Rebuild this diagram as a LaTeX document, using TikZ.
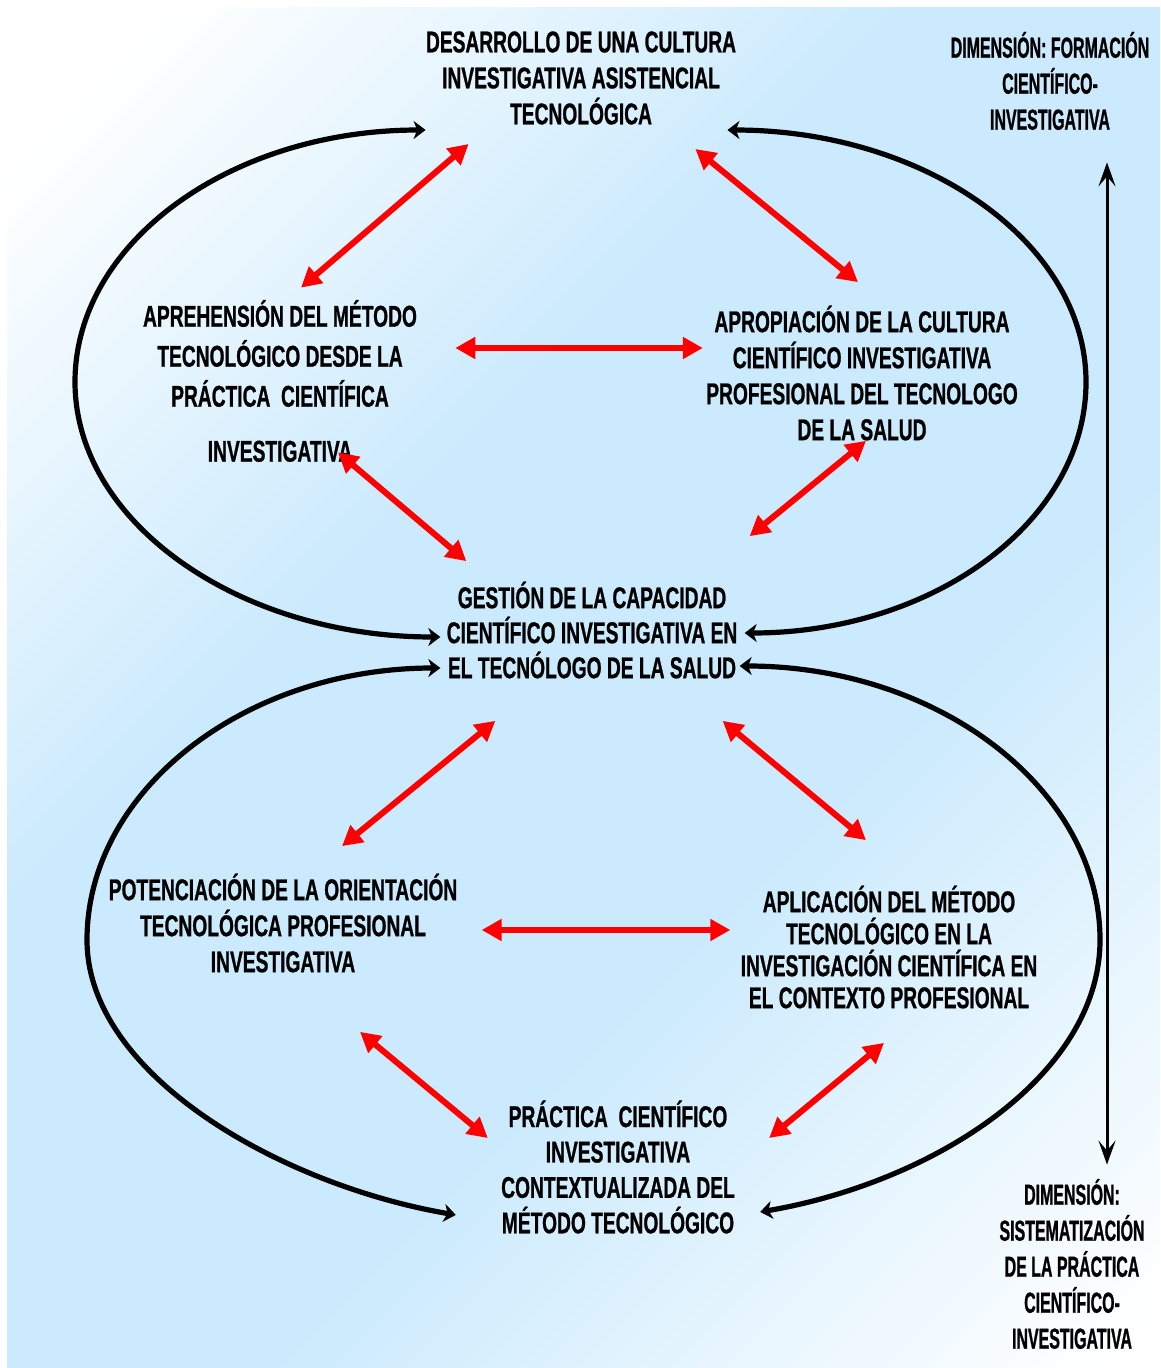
\documentclass[tikz,border=0pt]{standalone}
\usepackage{fontspec}
\usetikzlibrary{arrows.meta,calc}
\newfontfamily\stagefont[FakeStretch=0.64,FakeBold=0.8]{Liberation Sans}
\newfontfamily\dimfont[FakeStretch=0.55,FakeBold=0.8]{Liberation Sans}
\definecolor{bgblue}{RGB}{203,234,253}
\pgfdeclarehorizontalshading{skyfade}{100bp}{color(0bp)=(white); color(19bp)=(white); color(40bp)=(bgblue); color(60bp)=(bgblue); color(84bp)=(white); color(100bp)=(white)}

\begin{document}
\begin{tikzpicture}[x=0.5pt,y=-0.5pt,
  stage/.style={align=center,inner sep=1.5pt,font=\stagefont\bfseries\fontsize{15}{#1}\selectfont},
  stage/.default=18,
  dimlabel/.style={align=center,inner sep=1.5pt,font=\dimfont\bfseries\fontsize{14.5}{18}\selectfont},
  loopline/.style={line width=2.6pt,{Stealth[length=6pt,width=9pt,inset=1.8pt]}-{Stealth[length=6pt,width=9pt,inset=1.8pt]}},
  link/.style={red,line width=3pt,{Triangle[length=10pt,width=10.5pt]}-{Triangle[length=10pt,width=10.5pt]}},
  dimaxis/.style={line width=1.5pt,{Stealth[length=12pt,width=8.5pt,inset=5pt]}-{Stealth[length=12pt,width=8.5pt,inset=5pt]}}]
  \useasboundingbox (0,0) rectangle (1160,1368);
  \fill[white] (0,0) rectangle (1160,1368);
  \shade[shading=skyfade,shading angle=-45] (7,8) rectangle (1160,1368);

  \node[stage] (top) at (581,78) {DESARROLLO DE UNA CULTURA\\INVESTIGATIVA ASISTENCIAL\\TECNOLÓGICA};
  \node[stage=20] (aprehension) at (280,381) {APREHENSIÓN DEL MÉTODO\\TECNOLÓGICO DESDE LA\\PRÁCTICA\ \ CIENTÍFICA\\[7.5pt]INVESTIGATIVA};
  \node[stage] (apropiacion) at (862,373) {APROPIACIÓN DE LA CULTURA\\CIENTÍFICO INVESTIGATIVA\\PROFESIONAL DEL TECNOLOGO\\DE LA SALUD};
  \node[stage=17.5] (gestion) at (592,630) {GESTIÓN DE LA CAPACIDAD\\CIENTÍFICO INVESTIGATIVA EN\\EL TECNÓLOGO DE LA SALUD};
  \node[stage] (potenciacion) at (283,923) {POTENCIACIÓN DE LA ORIENTACIÓN\\TECNOLÓGICA PROFESIONAL\\INVESTIGATIVA};
  \node[stage=16] (aplicacion) at (889,947) {APLICACIÓN DEL MÉTODO\\TECNOLÓGICO EN LA\\INVESTIGACIÓN CIENTÍFICA EN\\EL CONTEXTO PROFESIONAL};
  \node[stage=17.7] (practica) at (618,1167) {PRÁCTICA\ \ CIENTÍFICO\\INVESTIGATIVA\\CONTEXTUALIZADA DEL\\MÉTODO TECNOLÓGICO};
  \node[dimlabel] (dimtop) at (1050,81) {DIMENSIÓN: FORMACIÓN\\CIENTÍFICO-\\INVESTIGATIVA};
  \node[dimlabel] (dimbottom) at (1072,1264) {DIMENSIÓN:\\SISTEMATIZACIÓN\\DE LA PRÁCTICA\\CIENTÍFICO-\\INVESTIGATIVA};

  % outer loops
  \coordinate (upleft) at (75,382);
  \coordinate (upright) at (1086,382);
  \coordinate (lowleft) at (87,940);
  \coordinate (lowright) at (1100,940);
  \draw[loopline] ($(top.south west)+(3,2)$) .. controls +(-194,0) and +(0,-140) .. (upleft)
    .. controls +(0,140) and +(-202,0) .. ($(gestion.west)+(-3,7)$);
  \draw[loopline] ($(top.south east)+(-12,2)$) .. controls +(198,0) and +(0,-139) .. (upright)
    .. controls +(0,140) and +(188,0) .. ($(gestion.east)+(4,3)$);
  \draw[loopline] ($(gestion.west)+(-3,38)$) .. controls +(-195,0) and +(0,-150) .. (lowleft)
    .. controls +(0,135) and +(-175,-30) .. ($(practica.south west)+(-42,-22)$);
  \draw[loopline] ($(gestion.east)+(-1,36)$) .. controls +(199,0) and +(0,-151) .. (lowright)
    .. controls +(0,135) and +(175,-30) .. ($(practica.south east)+(22,-25)$);

  % red links
  \draw[link] ($(top.south west)+(46,16)$) -- ($(aprehension.north)+(21,-9)$);
  \draw[link] ($(top.south east)+(-44,21)$) -- ($(apropiacion.north)+(-4,-20)$);
  \draw[link] ($(aprehension.east)+(35,-33)$) -- ($(apropiacion.west)+(0,-25)$);
  \draw[link] ($(aprehension.south)+(58,-13)$) -- ($(gestion.north west)+(23,-17)$);
  \draw[link] ($(apropiacion.south)+(4,-3)$) -- ($(gestion.north east)+(9,-42)$);
  \draw[link] ($(gestion.south west)+(52,39)$) -- ($(potenciacion.north)+(59,-24)$);
  \draw[link] ($(gestion.south east)+(-18,39)$) -- ($(aplicacion.north)+(-23,-42)$);
  \draw[link] ($(potenciacion.east)+(21,7)$) -- ($(aplicacion.west)+(-7,-17)$);
  \draw[link] ($(potenciacion.south)+(77,56)$) -- ($(practica.west)+(-10,-29)$);
  \draw[link] ($(aplicacion.south)+(-5,31)$) -- ($(practica.east)+(31,-29)$);

  \draw[dimaxis] ($(dimtop.south)+(57,29)$) -- ($(dimbottom.north)+(35,-11)$);
\end{tikzpicture}
\end{document}
